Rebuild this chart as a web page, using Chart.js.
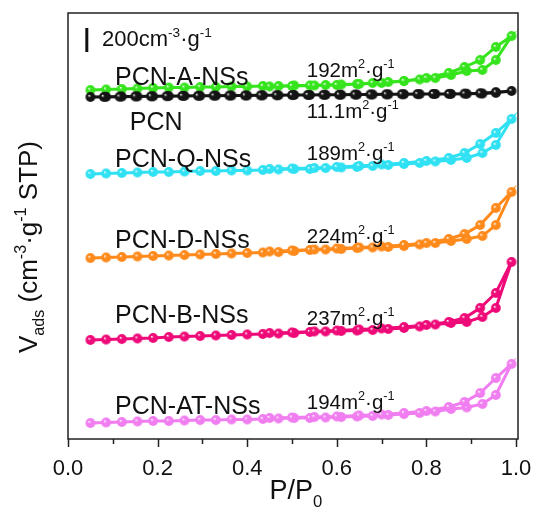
<!DOCTYPE html>
<html><head><meta charset="utf-8">
<script src="https://cdn.jsdelivr.net/npm/chart.js@4/dist/chart.umd.min.js"></script>
<style>html,body{margin:0;padding:0;background:#fff}#wrap{width:536px;height:513px}</style>
</head><body><div id="wrap"><canvas id="c" width="536" height="513"></canvas></div>
<script>
// Relative pressure points (P/P0)
const P_ADS = [0.05,0.085,0.12,0.155,0.19,0.225,0.26,0.295,0.33,0.365,0.40,0.435,0.47,0.505,0.54,0.575,0.61,0.645,0.68,0.715,0.75,0.785,0.82,0.855,0.89,0.925,0.955,0.99];
const P_DES = [0.955,0.92,0.885,0.85,0.80,0.75,0.70,0.65,0.60,0.55,0.50,0.45];
const P_DES_PCN = [0.955,0.92,0.885,0.85,0.815,0.78,0.745,0.71,0.675,0.64,0.605,0.57,0.535,0.50,0.465,0.43,0.395,0.36,0.325,0.29,0.255,0.22,0.185,0.15,0.115,0.08];

// Adsorbed volume (cm3/g, curves offset vertically as in the figure)
const PCN_ADS = [2850,2852,2854,2855,2856,2858,2859,2860,2861,2862,2863,2864,2865,2867,2867,2868,2869,2870,2871,2872,2873,2874,2875,2876,2877,2879,2885,2900];
const PCN_DES = [2890,2881,2878,2876,2875,2874,2873,2872,2871,2870,2869,2868,2867,2866,2865,2864,2863,2862,2861,2860,2859,2857,2856,2855,2853,2851];
const A_ADS = [2908,2913,2917,2921,2925,2929,2929,2933,2933,2938,2938,2942,2942,2946,2946,2950,2954,2958,2967,2975,2983,2996,3008,3033,3067,3075,3158,3358];
const A_DES = [3267,3158,3100,3050,3008,2983,2967,2958,2950,2946,2942,2938];
const Q_ADS = [2208,2213,2217,2221,2225,2225,2229,2233,2233,2238,2238,2242,2246,2250,2250,2258,2263,2267,2275,2283,2292,2300,2313,2325,2342,2383,2450,2667];
const Q_DES = [2550,2458,2383,2342,2317,2300,2288,2275,2267,2258,2254,2250];
const D_ADS = [1508,1513,1517,1521,1525,1529,1533,1538,1542,1546,1550,1554,1558,1567,1575,1579,1583,1592,1596,1600,1608,1621,1633,1650,1667,1692,1783,2058];
const D_DES = [1925,1783,1708,1667,1633,1617,1604,1596,1588,1579,1571,1563];
const B_ADS = [825,829,833,838,842,850,854,858,863,867,871,875,879,883,892,896,900,904,908,917,925,938,954,967,975,1017,1092,1475];
const B_DES = [1217,1092,1008,975,950,933,921,913,904,896,888,883];
const AT_ADS = [133,138,142,146,150,150,154,158,158,163,163,167,171,175,175,179,183,188,192,200,208,217,229,250,263,292,367,625];
const AT_DES = [508,383,308,267,233,217,204,196,188,183,179,175];

const SAMPLES = ['PCN','PCN-A-NSs','PCN-Q-NSs','PCN-D-NSs','PCN-B-NSs','PCN-AT-NSs'];
const AREAS = ['11.1','192','189','224','237','194'];
const X_TICKS = [0,0.2,0.4,0.6,0.8,1.0];
const X_TICK_LABELS = ['0.0','0.2','0.4','0.6','0.8','1.0'];
const X_MINOR = [0.1,0.3,0.5,0.7,0.9];

// styling
const COLORS = ['#141414','#35e41c','#2fe1f2','#ff8a1c','#ee0a78','#f07ef0'];
const NAME_POS = [[0.138,2575],[0.105,2950],[0.105,2267],[0.105,1592],[0.105,967],[0.105,208]];
const AREA_POS = [[0.533,2675],[0.533,3017],[0.533,2325],[0.533,1633],[0.533,950],[0.533,250]];
const FONT = '"Liberation Sans", Arial, Helvetica, sans-serif';
const font = s => s.toFixed(1) + 'px ' + FONT;

function ball(color, r){
  const s = Math.ceil(r*2+2);
  const c = document.createElement('canvas'); c.width = c.height = s;
  const g = c.getContext('2d'); const cx = s/2;
  const grad = g.createRadialGradient(cx-r*0.3, cx-r*0.3, 0, cx, cx, r);
  grad.addColorStop(0,'#ffffff'); grad.addColorStop(0.35,color); grad.addColorStop(1,color);
  g.fillStyle = grad; g.beginPath(); g.arc(cx,cx,r,0,Math.PI*2); g.fill();
  return c;
}
function series(pa, va, pd, vd){
  const out = [];
  pa.forEach((p,i)=>out.push({x:p,y:va[i]}));
  pd.forEach((p,i)=>out.push({x:p,y:vd[i]}));
  return out;
}
const DATA = [
  series(P_ADS, PCN_ADS, P_DES_PCN, PCN_DES),
  series(P_ADS, A_ADS, P_DES, A_DES),
  series(P_ADS, Q_ADS, P_DES, Q_DES),
  series(P_ADS, D_ADS, P_DES, D_DES),
  series(P_ADS, B_ADS, P_DES, B_DES),
  series(P_ADS, AT_ADS, P_DES, AT_DES)
];

function rich(ctx, x, y, parts, size, measureOnly){
  let w = 0;
  for(const p of parts){
    const fs = p.s ? size*0.62 : size;
    ctx.font = font(fs);
    const dy = p.s==='sup' ? -size*0.42 : (p.s==='sub' ? size*0.28 : 0);
    if(!measureOnly) ctx.fillText(p.t, x+w, y+dy);
    w += ctx.measureText(p.t).width;
  }
  return w;
}
const areaParts = a => [{t:a+'m'},{t:'2',s:'sup'},{t:'\u00b7g'},{t:'-1',s:'sup'}];

const deco = {
  id:'deco',
  afterDraw(chart){
    const ctx = chart.ctx, xs = chart.scales.x, ys = chart.scales.y, ca = chart.chartArea;
    ctx.save();
    ctx.strokeStyle = '#222'; ctx.lineWidth = 1.5;
    ctx.strokeRect(ca.left, ca.top, ca.right-ca.left, ca.bottom-ca.top);
    // ticks
    ctx.beginPath();
    X_TICKS.forEach(v=>{const x=Math.round(xs.getPixelForValue(v))+0.5; ctx.moveTo(x,ca.bottom); ctx.lineTo(x,ca.bottom+8);});
    X_MINOR.forEach(v=>{const x=Math.round(xs.getPixelForValue(v))+0.5; ctx.moveTo(x,ca.bottom); ctx.lineTo(x,ca.bottom+5);});
    ctx.stroke();
    ctx.fillStyle = '#111';
    // tick labels
    ctx.font = font(22); ctx.textAlign = 'center'; ctx.textBaseline = 'alphabetic';
    X_TICKS.forEach((v,i)=>ctx.fillText(X_TICK_LABELS[i], xs.getPixelForValue(v), ca.bottom+36));
    ctx.textAlign = 'left';
    // sample names and surface areas
    SAMPLES.forEach((n,i)=>{
      ctx.font = font(25);
      ctx.fillText(n, xs.getPixelForValue(NAME_POS[i][0]), ys.getPixelForValue(NAME_POS[i][1]));
      rich(ctx, xs.getPixelForValue(AREA_POS[i][0]), ys.getPixelForValue(AREA_POS[i][1]), areaParts(AREAS[i]), 20.5);
    });
    // scale bar 200 cm3/g
    const bx = xs.getPixelForValue(0.042);
    ctx.strokeStyle = '#111'; ctx.lineWidth = 3;
    ctx.beginPath(); ctx.moveTo(bx, ys.getPixelForValue(3225)); ctx.lineTo(bx, ys.getPixelForValue(3425)); ctx.stroke();
    rich(ctx, xs.getPixelForValue(0.076), ys.getPixelForValue(3275), [{t:'200cm'},{t:'-3',s:'sup'},{t:'\u00b7g'},{t:'-1',s:'sup'}], 22);
    // x title
    const xt = [{t:'P/P'},{t:'0',s:'sub'}];
    const wx = rich(ctx,0,0,xt,27,true);
    rich(ctx, (ca.left+ca.right)/2 - wx/2 + 3, 499, xt, 27);
    // y title
    const yt = [{t:'V'},{t:'ads',s:'sub'},{t:' (cm'},{t:'-3',s:'sup'},{t:'\u00b7g'},{t:'-1',s:'sup'},{t:' STP)'}];
    const wy = rich(ctx,0,0,yt,26,true);
    ctx.translate(37, 247); ctx.rotate(-Math.PI/2);
    rich(ctx, -wy/2, 0, yt, 26);
    ctx.restore();
  }
};

new Chart(document.getElementById('c'), {
  type:'scatter',
  data:{ datasets: DATA.map((d,i)=>({
    label: SAMPLES[i], data:d, showLine:true, borderColor:COLORS[i], backgroundColor:COLORS[i],
    borderWidth:3, tension:0, pointStyle: ball(COLORS[i], 4.9), pointRadius:4.9
  }))},
  options:{
    responsive:false, animation:false, devicePixelRatio:1,
    layout:{padding:{left:68, right:18, top:13, bottom:0}},
    plugins:{legend:{display:false}, tooltip:{enabled:false}},
    scales:{
      x:{ type:'linear', min:0, max:1.0045,
        grid:{display:false, drawTicks:false}, border:{display:false},
        afterFit: s => { s.height = 74; },
        ticks:{ display:false }
      },
      y:{ display:false, min:0, max:3550 }
    }
  },
  plugins:[deco]
});
</script></body></html>
